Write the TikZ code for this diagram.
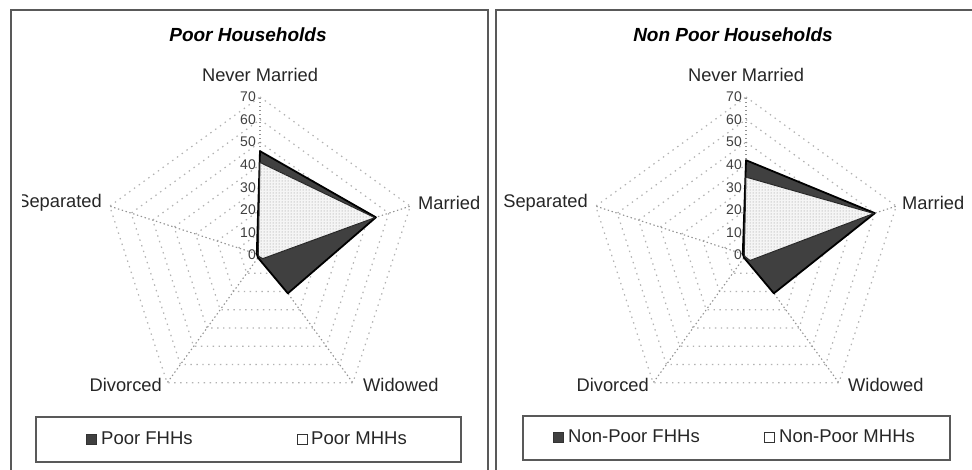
\documentclass[tikz,border=0pt]{standalone}
\usepackage{fontspec}
\setmainfont{Liberation Sans}
\usetikzlibrary{patterns}
\tikzset{
  ringline/.style={gray!60, dash pattern=on 1.4pt off 4.5pt, line width=1.2pt},
  spoke/.style={gray!85, dash pattern=on 1.4pt off 2.6pt, line width=1.1pt},
  fhh/.style={fill=black!75, draw=black, line width=1.8pt, line join=round},
  mhh/.style={draw=black!85, line width=1pt, line join=round, fill=gray!8, postaction={pattern=dots, pattern color=gray!90}},
  axislabel/.style={font=\fontsize{18.3}{20}\selectfont, text=black!85, inner sep=1pt},
  ticklabel/.style={font=\fontsize{14}{16}\selectfont, anchor=east, text=black!75, inner sep=1pt},
  charttitle/.style={font=\fontsize{19}{22}\selectfont\bfseries\itshape},
  legendtext/.style={font=\fontsize{18.5}{20}\selectfont, anchor=west, inner sep=0pt, text=black!85},
  frame/.style={draw=black!65, line width=1.2pt},
  swatch/.style={minimum size=10pt, inner sep=0pt, draw=black!80, line width=0.8pt}
}
\begin{document}
\begin{tikzpicture}[x=1pt,y=1pt]
\useasboundingbox (0,0) rectangle (972,469);
\fill[white] (0,0) rectangle (972,469);

\draw[frame] (11,-5) rectangle (488,459);
\draw[frame] (496,-5) rectangle (985,459);

\node[charttitle] (pl-title) at (248,434) {Poor Households};
\node[charttitle] (npl-title) at (733,434) {Non Poor Households};

% poor households
\begin{scope}[shift={(260,214)}]
\foreach \r in {1,...,7} {
  \draw[ringline] (90:\r*22.57) -- (18:\r*22.57) -- (-54:\r*22.57) -- (-126:\r*22.57) -- (162:\r*22.57) -- cycle;
}
\foreach \a in {90,18,-54,-126,162} {
  \draw[spoke] (0,0) -- (\a:158);
}
\coordinate (pf-nm) at (90:46*2.257);
\coordinate (pf-ma) at (18:54*2.257);
\coordinate (pf-wi) at (-54:21*2.257);
\coordinate (pf-di) at (-126:1.5*2.257);
\coordinate (pf-se) at (162:1.5*2.257);
\coordinate (pm-nm) at (90:41*2.257);
\coordinate (pm-ma) at (18:53.5*2.257);
\coordinate (pm-wi) at (-54:2*2.257);
\coordinate (pm-di) at (-126:0.8*2.257);
\coordinate (pm-se) at (162:0.8*2.257);
\draw[fhh] (pf-nm) -- (pf-ma) -- (pf-wi) -- (pf-di) -- (pf-se) -- cycle;
\draw[mhh] (pm-nm) -- (pm-ma) -- (pm-wi) -- (pm-di) -- (pm-se) -- cycle;
\foreach \v in {0,10,...,70} {
  \node[ticklabel] (pt-\v) at (-3,\v*2.257) {\v};
}
\node[axislabel] (pl-nm) at (0,180) {Never Married};
\node[axislabel, anchor=west] (pl-ma) at (157,52) {Married};
\node[axislabel, anchor=west] (pl-wi) at (102,-130) {Widowed};
\node[axislabel, anchor=east] (pl-di) at (-97,-130) {Divorced};
\begin{scope}
\clip (-238,-100) rectangle (0,100);
\node[axislabel, anchor=east] (pl-se) at (-157,52) {Separated};
\end{scope}
\end{scope}

% non poor households
\begin{scope}[shift={(746,214)}]
\foreach \r in {1,...,7} {
  \draw[ringline] (90:\r*22.57) -- (18:\r*22.57) -- (-54:\r*22.57) -- (-126:\r*22.57) -- (162:\r*22.57) -- cycle;
}
\foreach \a in {90,18,-54,-126,162} {
  \draw[spoke] (0,0) -- (\a:158);
}
\coordinate (nf-nm) at (90:42*2.257);
\coordinate (nf-ma) at (18:60*2.257);
\coordinate (nf-wi) at (-54:21*2.257);
\coordinate (nf-di) at (-126:1.5*2.257);
\coordinate (nf-se) at (162:1.5*2.257);
\coordinate (nm-nm) at (90:34.5*2.257);
\coordinate (nm-ma) at (18:59.5*2.257);
\coordinate (nm-wi) at (-54:3*2.257);
\coordinate (nm-di) at (-126:0.8*2.257);
\coordinate (nm-se) at (162:0.8*2.257);
\draw[fhh] (nf-nm) -- (nf-ma) -- (nf-wi) -- (nf-di) -- (nf-se) -- cycle;
\draw[mhh] (nm-nm) -- (nm-ma) -- (nm-wi) -- (nm-di) -- (nm-se) -- cycle;
\foreach \v in {0,10,...,70} {
  \node[ticklabel] (nt-\v) at (-3,\v*2.257) {\v};
}
\node[axislabel] (npl-nm) at (0,180) {Never Married};
\node[axislabel, anchor=west] (npl-ma) at (155,52) {Married};
\node[axislabel, anchor=west] (npl-wi) at (101,-130) {Widowed};
\node[axislabel, anchor=east] (npl-di) at (-96,-130) {Divorced};
\node[axislabel, anchor=east] (npl-se) at (-157,52) {Separated};
\end{scope}

% legends
\draw[frame] (36,7) rectangle (461,52);
\node[swatch, fill=black!75] (lg-pf) at (91.5,30) {};
\node[legendtext] (lg-pf-t) at (101,31) {Poor FHHs};
\node[swatch, fill=white] (lg-pm) at (302,30) {};
\node[legendtext] (lg-pm-t) at (311,31) {Poor MHHs};

\draw[frame] (523,9) rectangle (950,53);
\node[swatch, fill=black!75] (lg-nf) at (558,32) {};
\node[legendtext] (lg-nf-t) at (568,33) {Non-Poor FHHs};
\node[swatch, fill=white] (lg-nm) at (769,32) {};
\node[legendtext] (lg-nm-t) at (779,33) {Non-Poor MHHs};
\end{tikzpicture}
\end{document}
